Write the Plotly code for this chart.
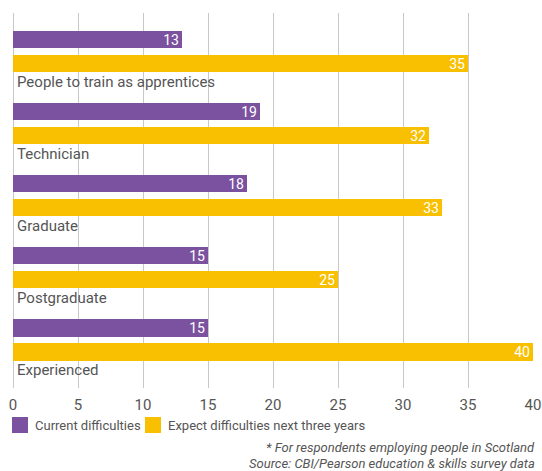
import plotly.graph_objects as go

categories = ["People to train as apprentices", "Technician", "Graduate", "Postgraduate", "Experienced"]
current = [13, 19, 18, 15, 15]
expected = [35, 32, 33, 25, 40]
x_ticks = [0, 5, 10, 15, 20, 25, 30, 35, 40]
series_names = ["Current difficulties", "Expect difficulties next three years"]

PURPLE = "#7B52A0"
YELLOW = "#F8C000"
TEXT = "#555555"
FONT = "Roboto"

W, H = 542, 471
ML, MR, MT, MB = 13, 9, 13, 83
PH = H - MT - MB

# each category occupies three rows: current bar, expected bar, label line
rows_cur = [3 * i for i in range(len(categories))]
rows_exp = [3 * i + 1 for i in range(len(categories))]

fig = go.Figure()
for name, vals, rows, col in [
    (series_names[0], current, rows_cur, PURPLE),
    (series_names[1], expected, rows_exp, YELLOW),
]:
    fig.add_trace(go.Bar(
        name=name, orientation="h",
        x=vals, y=rows, width=0.72,
        marker=dict(color=col, line=dict(width=0)),
        text=[str(v) for v in vals], textposition="inside",
        insidetextanchor="end", textangle=0, constraintext="none",
        textfont=dict(color="white", size=14, family=FONT),
        showlegend=False,
    ))

for i, cat in enumerate(categories):
    fig.add_annotation(
        x=0, y=3 * i + 1.77, xref="x", yref="y", text=cat,
        showarrow=False, xanchor="left", yanchor="middle", xshift=2,
        font=dict(size=15, color=TEXT, family=FONT),
    )

# legend drawn as swatches + labels below the axis
def py(px):
    return -(px - (MT + PH)) / PH

legend_items = [(series_names[0], PURPLE, 12), (series_names[1], YELLOW, 145)]
for name, col, x0 in legend_items:
    fig.add_shape(
        type="rect", xref="paper", yref="paper",
        x0=(x0 - ML) / (W - ML - MR), x1=(x0 + 16 - ML) / (W - ML - MR),
        y0=py(433), y1=py(417), fillcolor=col, line=dict(width=0),
    )
    fig.add_annotation(
        x=(x0 + 21 - ML) / (W - ML - MR), y=py(425), xref="paper", yref="paper",
        xanchor="left", yanchor="middle", text=name, showarrow=False,
        font=dict(size=13, color=TEXT, family=FONT),
    )

notes = ["* For respondents employing people in Scotland",
         "Source: CBI/Pearson education &amp; skills survey data"]
for note, ypx in zip(notes, [447, 464]):
    fig.add_annotation(
        x=1, y=py(ypx), xref="paper", yref="paper", xanchor="right", yanchor="middle",
        text="<i>" + note + "</i>", showarrow=False, xshift=4,
        font=dict(size=13, color=TEXT, family=FONT),
    )

fig.update_layout(
    width=W, height=H,
    margin=dict(l=ML, r=MR, t=MT, b=MB, autoexpand=False),
    paper_bgcolor="white", plot_bgcolor="white",
    barmode="overlay", bargap=0,
    showlegend=False,
    xaxis=dict(
        range=[0, 40], tickvals=x_ticks, showgrid=True, gridcolor="#c8c8c8",
        gridwidth=1, zeroline=True, zerolinecolor="#c8c8c8", zerolinewidth=1,
        showline=False, ticks="", automargin=False, ticklabelstandoff=6,
        tickfont=dict(size=15, color=TEXT, family=FONT),
    ),
    yaxis=dict(
        range=[14.5, -1.1], showticklabels=False, showgrid=False,
        zeroline=False, showline=False, automargin=False,
    ),
    font=dict(family=FONT, color=TEXT),
)

fig.write_html("out.html")
